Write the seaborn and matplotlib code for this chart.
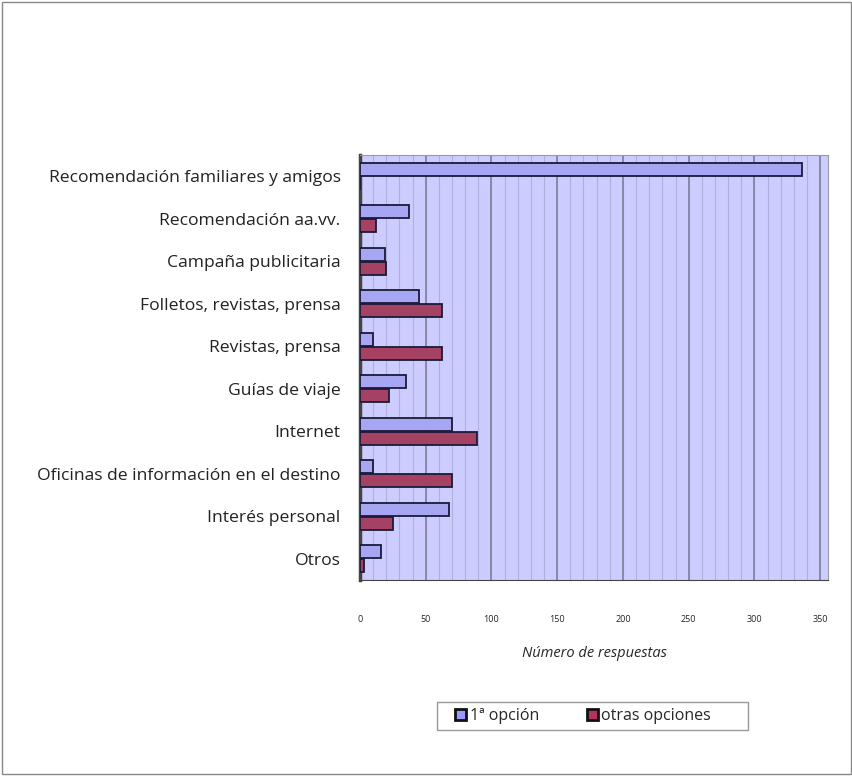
import pandas as pd
import numpy as np
import matplotlib.pyplot as plt
import seaborn as sns
from matplotlib.patches import Rectangle, Patch

# Values
categorias = ["Recomendación familiares y amigos", "Recomendación aa.vv.", "Campaña publicitaria",
              "Folletos, revistas, prensa", "Revistas, prensa", "Guías de viaje", "Internet",
              "Oficinas de información en el destino", "Interés personal", "Otros"]
primera_opcion = [336, 37, 19, 45, 10, 35, 70, 10, 68, 16]
otras_opciones = [0, 12, 20, 62, 62, 22, 89, 70, 25, 3]
series = ["1ª opción", "otras opciones"]
colores = ["#9999ff", "#b5325e"]

df = pd.DataFrame({
    "categoria": categorias * 2,
    "valor": primera_opcion + otras_opciones,
    "serie": [series[0]] * len(categorias) + [series[1]] * len(categorias),
})

sns.set_style("white")
plt.rcParams['font.family'] = ['Open Sans', 'DejaVu Sans']

fig = plt.figure(figsize=(8.53, 7.76), dpi=100)
ax = fig.add_axes([360 / 853, 1 - 580 / 776, 468 / 853, (580 - 155) / 776])
ax.set_facecolor("#ccccff")

# Gridlines: minor every 10, major every 50
for v in np.arange(10, 360, 10):
    ax.axvline(v, color="#b0b0dd", lw=0.8, zorder=0)
for v in np.arange(50, 360, 50):
    ax.axvline(v, color="#8888a8", lw=1.4, zorder=0)

sns.barplot(data=df, y="categoria", x="valor", hue="serie", orient="h",
            palette=colores, width=0.64, gap=0.04,
            edgecolor="#1a1a3a", linewidth=1.3, ax=ax, legend=False, zorder=3)

ax.set_xlim(0, 356)
ax.set_xticks(np.arange(0, 351, 50))
ax.tick_params(axis="x", labelsize=6.5, pad=22, length=3, color="#555555")
ax.tick_params(axis="y", labelsize=12.6, pad=14, length=0, labelcolor="#222222")
ax.set_ylabel("")
ax.set_xlabel("Número de respuestas", fontstyle="italic", fontsize=10.5, labelpad=16)
for s in ax.spines.values():
    s.set_color("#999999")
ax.spines["left"].set_color("#444444")
ax.spines["left"].set_linewidth(2.5)
ax.spines["bottom"].set_color("#444444")

handles = [Patch(facecolor=c, edgecolor="#111111", lw=2) for c in colores]
fig.legend(handles, series, loc="center", bbox_to_anchor=(583 / 853, 1 - 716 / 776), ncol=2,
           frameon=False, fontsize=11.5,
           handlelength=0.7, handleheight=0.7, handletextpad=0.2, columnspacing=3.0,
           borderpad=0.4, borderaxespad=0)
fig.patches.append(Rectangle((437 / 853, 1 - 730 / 776), 311 / 853, 28 / 776,
                             transform=fig.transFigure, fill=False, edgecolor="#999999", lw=1))

fig.patches.append(Rectangle((0.002, 0.002), 0.996, 0.996, transform=fig.transFigure,
                             fill=False, edgecolor="#888888", lw=1))

fig.savefig("out.png", dpi=100)
